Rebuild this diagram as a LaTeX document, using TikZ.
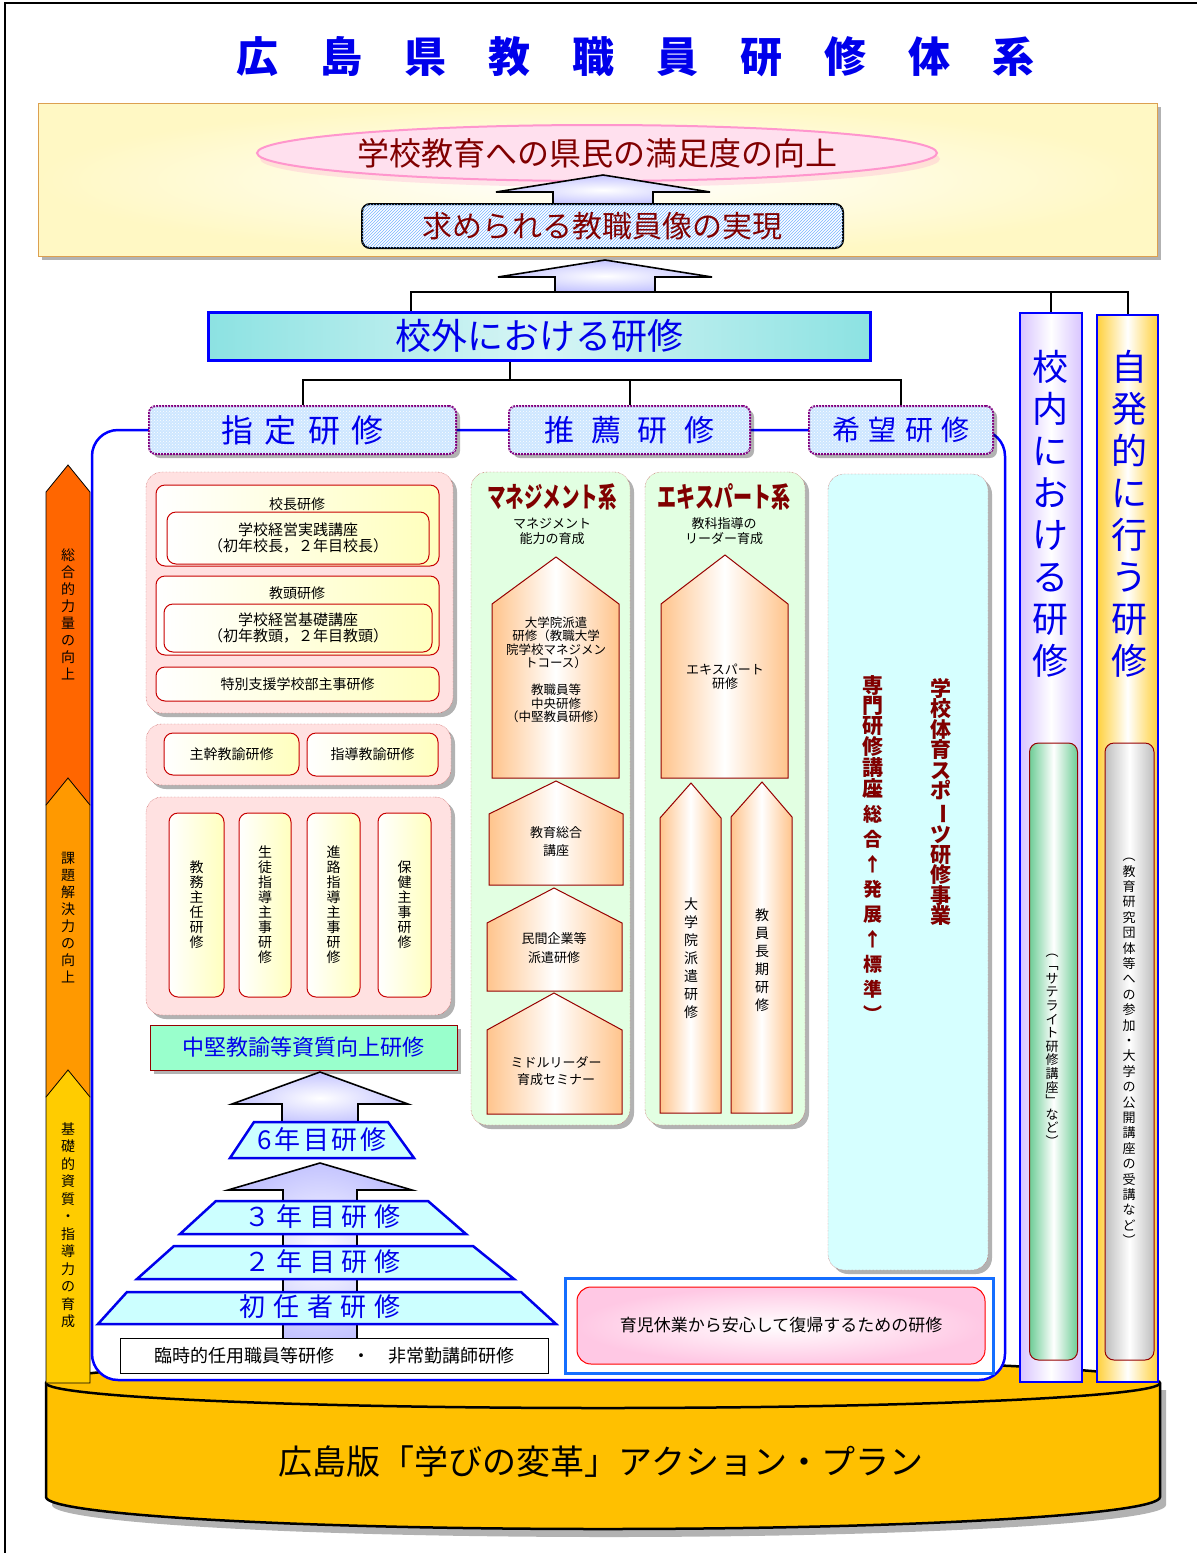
\documentclass[tikz,border=0pt]{standalone}
\usepackage{fontspec}
\setmainfont{Noto Sans CJK JP}
\usepackage{graphicx}
\usetikzlibrary{shapes.geometric,shadows,patterns,positioning}

\newcommand\fsz[2]{\fontsize{#1}{#2}\selectfont}

\definecolor{ttlblue}{RGB}{0,0,235}
\definecolor{txtred}{RGB}{128,0,0}
\definecolor{paleyel}{RGB}{255,248,196}
\definecolor{goalbdr}{RGB}{220,160,80}
\definecolor{ellpink}{RGB}{255,224,238}
\definecolor{ellbdr}{RGB}{255,150,205}
\definecolor{hatchblue}{RGB}{120,180,255}
\definecolor{arrlav}{RGB}{196,196,255}
\definecolor{barcyan}{RGB}{140,226,226}
\definecolor{frameblue}{RGB}{0,0,255}
\definecolor{lblfill}{RGB}{205,230,255}
\definecolor{lbldot}{RGB}{128,0,128}
\definecolor{grppink}{RGB}{255,225,225}
\definecolor{grpbdr}{RGB}{180,40,40}
\definecolor{boxyel}{RGB}{255,255,190}
\definecolor{boxbdr}{RGB}{200,0,0}
\definecolor{mint}{RGB}{153,255,204}
\definecolor{trapcyan}{RGB}{204,255,255}
\definecolor{grpgreen}{RGB}{226,255,226}
\definecolor{peach}{RGB}{255,196,140}
\definecolor{pentbdr}{RGB}{150,0,0}
\definecolor{grpcyan}{RGB}{214,255,255}
\definecolor{collav}{RGB}{216,196,255}
\definecolor{colgold}{RGB}{255,208,60}
\definecolor{bargreen}{RGB}{110,205,150}
\definecolor{bargray}{RGB}{190,190,190}
\definecolor{arrone}{RGB}{255,102,0}
\definecolor{arrtwo}{RGB}{255,153,0}
\definecolor{arrthree}{RGB}{255,204,0}
\definecolor{cylyel}{RGB}{255,192,0}
\definecolor{ikujiblue}{RGB}{20,110,255}
\definecolor{ikujipink}{RGB}{255,200,228}

\begin{document}
\begin{tikzpicture}[x=1pt,y=-1pt,
  shd/.style={drop shadow={shadow xshift=4pt,shadow yshift=-4pt,fill=black,opacity=.3}},
  blkarrow/.style={draw=black,line width=1.6,inner color=white,outer color=arrlav},
  tree/.style={line width=2},
  lbl/.style={draw=lbldot,line width=2,densely dotted,rounded corners=7,fill=lblfill,
    postaction={pattern=crosshatch dots,pattern color=white},shd,text=ttlblue,inner sep=0,minimum height=48},
  grp/.style={draw=grpbdr,densely dotted,rounded corners=16,shd,inner sep=0},
  ybox/.style={draw=boxbdr,line width=1,rounded corners=9,left color=white,right color=boxyel,
    inner sep=0,align=center,font=\fsz{15}{16}},
  trap/.style={draw=ttlblue,line width=2.5,fill=trapcyan},
  traptxt/.style={text=ttlblue,font=\fsz{26}{26}},
  pent/.style={draw=pentbdr,line width=1,left color=peach,right color=peach,middle color=white},
  col/.style={draw=frameblue,line width=2.5,inner sep=0},
  bar/.style={draw=pentbdr,line width=1,rounded corners=9,inner sep=0,minimum width=48,minimum height=617},
  lftarr/.style={draw=black,line width=.8},
  vtxt/.style={align=center,inner sep=0}]
\useasboundingbox (0,0) rectangle (1197,1553);
\draw[line width=1.5] (5,1553) -- (5,3) -- (1197,3);

% title
\node[font=\bfseries\fsz{42}{42},text=ttlblue] (title) at (635,57)
  {広\hspace{1em}島\hspace{1em}県\hspace{1em}教\hspace{1em}職\hspace{1em}員\hspace{1em}研\hspace{1em}修\hspace{1em}体\hspace{1em}系};

% goal
\node[draw=goalbdr,line width=1,inner sep=0,minimum width=1119,minimum height=153,
  inner color=white,outer color=paleyel,shd] (goal) at (597.5,179.5) {};
\node[ellipse,draw=ellbdr,line width=2,fill=ellpink,inner sep=0,minimum width=680,minimum height=56,
  text=txtred,font=\fsz{32}{32},drop shadow={shadow xshift=3pt,shadow yshift=-6pt,fill=ellbdr,opacity=.25}]
  (satis) at (597,153) {学校教育への県民の満足度の向上};
\draw[blkarrow] (603,175) -- (710,192) -- (653,192) -- (653,205) -- (553,205) -- (553,192) -- (496,192) -- cycle;
\node[draw=black,line width=2,rounded corners=8,fill=white,postaction={pattern=north east lines,pattern color=hatchblue},
  inner sep=0,minimum width=481,minimum height=44,text=txtred,font=\fsz{30}{30}] (ideal) at (602.5,226) {求められる教職員像の実現};
\draw[blkarrow] (605,260) -- (712,277) -- (655,277) -- (655,292) -- (555,292) -- (555,277) -- (498,277) -- cycle;

% base cylinder
\fill[black!30] (52,1390) -- (52,1505) arc[start angle=180,end angle=0,x radius=557,y radius=32] -- (1166,1390) -- cycle;
\draw[line width=2.5,fill=cylyel] (46,1383) -- (46,1497) arc[start angle=180,end angle=0,x radius=557,y radius=32]
  -- (1160,1383) arc[start angle=0,end angle=-180,x radius=557,y radius=25] -- cycle;
\draw[line width=2.5] (46,1383) arc[start angle=180,end angle=0,x radius=557,y radius=25];
\node[font=\fsz{34}{34}] (plan) at (601,1462) {広島版「学びの変革」アクション・プラン};

% left arrows
\draw[lftarr,fill=arrone] (68,465) -- (90,492) -- (90,805) -- (46,805) -- (46,492) -- cycle;
\draw[lftarr,fill=arrtwo] (68,778) -- (90,805) -- (90,1097) -- (46,1097) -- (46,805) -- cycle;
\draw[lftarr,fill=arrthree] (68,1070) -- (90,1097) -- (90,1383) -- (46,1383) -- (46,1097) -- cycle;
\node[vtxt,font=\fsz{14}{17}] (sogo) at (68,614) {総\\合\\的\\力\\量\\の\\向\\上};
\node[vtxt,font=\fsz{14}{17}] (kadai) at (68,918) {課\\題\\解\\決\\力\\の\\向\\上};
\node[vtxt,font=\fsz{14}{17.5}] (kiso) at (68,1225) {基\\礎\\的\\資\\質\\・\\指\\導\\力\\の\\育\\成};

% right columns
\node[col,left color=collav,right color=collav,middle color=white,minimum width=62,minimum height=1069] (nai) at (1051,847.5) {};
\node[vtxt,text=ttlblue,font=\fsz{36}{42}] (naitxt) at (1050,514) {校\\内\\に\\お\\け\\る\\研\\修};
\node[bar,left color=bargreen,right color=bargreen,middle color=white] (naibar) at (1053.5,1051.5) {};
\node[vtxt,font=\fsz{13}{13.6}] (naisub) at (1052,1050) {︵\\﹁\\サ\\テ\\ラ\\イ\\ト\\研\\修\\講\\座\\﹂\\な\\ど\\︶};
\node[col,left color=colgold,right color=colgold,middle color=white,minimum width=61,minimum height=1067] (jihatsu) at (1127.5,848.5) {};
\node[vtxt,text=ttlblue,font=\fsz{36}{42}] (jitxt) at (1129,514) {自\\発\\的\\に\\行\\う\\研\\修};
\node[bar,left color=bargray,right color=bargray,middle color=white,minimum width=49] (jibar) at (1129.5,1051.5) {};
\node[vtxt,font=\fsz{13}{15.4}] (jisub) at (1129,1052)
  {︵\\教\\育\\研\\究\\団\\体\\等\\へ\\の\\参\\加\\・\\大\\学\\の\\公\\開\\講\\座\\の\\受\\講\\な\\ど\\︶};

% outside training
\node[draw=frameblue,line width=3,inner sep=0,minimum width=662,minimum height=48,
  left color=barcyan,right color=barcyan,middle color=barcyan!35,text=ttlblue,font=\fsz{36}{36}] (soto) at (539,336) {校外における研修};

% blue frame and labels
\draw[frameblue,line width=2.5,rounded corners=26,fill=white] (92,430) rectangle (1005,1380);
\node[lbl,minimum width=307,font=\fsz{32}{32}] (shitei) at (302.5,430) {指\hspace{.35em}定\hspace{.35em}研\hspace{.35em}修};
\node[lbl,minimum width=241,font=\fsz{30}{30}] (suisen) at (629.5,430) {推\hspace{.55em}薦\hspace{.55em}研\hspace{.55em}修};
\node[lbl,minimum width=184,font=\fsz{28}{28}] (kibou) at (901,430) {希\hspace{.3em}望\hspace{.3em}研\hspace{.3em}修};

% tree lines
\coordinate (junc) at (411,292);
\draw[tree] (junc |- soto.north) -- (junc) -| (nai.north);
\draw[tree] (junc) -| (jihatsu.north);
\coordinate (split) at (510,380);
\draw[tree] (split |- soto.south) -- (split);
\draw[tree] (shitei.north) -- (shitei.north |- split) -| (kibou.north);
\draw[tree] (suisen.north) -- (suisen.north |- split);

% designated: management posts
\node[grp,fill=grppink,minimum width=307,minimum height=241] (grpA) at (299.5,592.5) {};
\node[ybox,minimum width=283,minimum height=81] (kocho) at (297.5,525.5) {};
\node[font=\fsz{14}{14}] (kochot) at (297,504) {校長研修};
\node[ybox,minimum width=262,minimum height=52] (kochoin) at (298,538) {学校経営実践講座\\（初年校長，２年目校長）};
\node[ybox,minimum width=283,minimum height=79] (kyoto) at (297.5,615.5) {};
\node[font=\fsz{14}{14}] (kyotot) at (297,593) {教頭研修};
\node[ybox,minimum width=268,minimum height=48] (kyotoin) at (298,628) {学校経営基礎講座\\（初年教頭，２年目教頭）};
\node[ybox,minimum width=283,minimum height=34,font=\fsz{14}{14}] (tokubetsu) at (297.5,684) {特別支援学校部主事研修};

\node[grp,fill=grppink,minimum width=305,minimum height=61] (grpB) at (298.5,754.5) {};
\node[ybox,minimum width=135,minimum height=42,font=\fsz{14}{14}] (shukan) at (231.5,754) {主幹教諭研修};
\node[ybox,minimum width=131,minimum height=43,font=\fsz{14}{14}] (shido) at (372.5,754.5) {指導教諭研修};

\node[grp,fill=grppink,minimum width=305,minimum height=218] (grpC) at (298.5,906) {};
\node[ybox,minimum width=55,minimum height=184,font=\fsz{14}{15}] (kyomu) at (196.5,905) {教\\務\\主\\任\\研\\修};
\node[ybox,minimum width=52,minimum height=184,font=\fsz{14}{15}] (seito) at (265,905) {生\\徒\\指\\導\\主\\事\\研\\修};
\node[ybox,minimum width=53,minimum height=184,font=\fsz{14}{15}] (shinro) at (333.5,905) {進\\路\\指\\導\\主\\事\\研\\修};
\node[ybox,minimum width=53,minimum height=184,font=\fsz{14}{15}] (hoken) at (404.5,905) {保\\健\\主\\事\\研\\修};

\node[draw=pentbdr,line width=1,fill=mint,shd,inner sep=0,minimum width=307,minimum height=45,
  text=ttlblue,font=\fsz{22}{22}] (chuken) at (303.5,1047.5) {中堅教諭等資質向上研修};

% pyramid of basic training
\draw[blkarrow] (320,1072) -- (408,1104) -- (358,1104) -- (358,1124) -- (282,1124) -- (282,1104) -- (232,1104) -- cycle;
\draw[trap] (254,1122) -- (388,1122) -- (414,1158) -- (230,1158) -- cycle;
\node[traptxt] (nen6) at (322,1140) {6\hspace{.1em}年\hspace{.1em}目\hspace{.1em}研\hspace{.1em}修};
\draw[blkarrow] (320,1163) -- (412,1190) -- (357,1190) -- (357,1340) -- (283,1340) -- (283,1190) -- (228,1190) -- cycle;
\draw[trap] (216,1201) -- (428,1201) -- (466,1234) -- (180,1234) -- cycle;
\node[traptxt] (nen3) at (322,1217) {３\hspace{.25em}年\hspace{.25em}目\hspace{.25em}研\hspace{.25em}修};
\draw[trap] (174,1246) -- (473,1246) -- (514,1279) -- (137,1279) -- cycle;
\node[traptxt] (nen2) at (322,1262) {２\hspace{.25em}年\hspace{.25em}目\hspace{.25em}研\hspace{.25em}修};
\draw[trap] (127,1292) -- (521,1292) -- (556,1324) -- (98,1324) -- cycle;
\node[traptxt] (shonin) at (320,1307) {初\hspace{.3em}任\hspace{.3em}者\hspace{.3em}研\hspace{.3em}修};
\node[draw=black,line width=1,fill=white,inner sep=0,minimum width=428,minimum height=35,font=\fsz{18}{18}] (rinji) at (334,1355.5)
  {臨時的任用職員等研修\quad ・\quad 非常勤講師研修};

% recommended: management
\node[grp,fill=grpgreen,minimum width=159,minimum height=653] (mgmt) at (550.5,798.5) {};
\node[font=\bfseries\fsz{28}{28},text=txtred] (mgmtt) at (552,497) {\scalebox{0.66}[1]{マネジメント系}};
\node[vtxt,font=\fsz{13}{15}] (mgmts) at (552,531) {マネジメント\\能力の育成};
\draw[pent] (556,557) -- (619,604) -- (619,778) -- (492,778) -- (492,604) -- cycle;
\node[vtxt,font=\fsz{12.5}{13.5}] (daigakuin) at (556,670)
  {大学院派遣\\研修（教職大学\\院学校マネジメン\\トコース）\\[13.5pt]教職員等\\中央研修\\（中堅教員研修）};
\draw[pent] (556,781) -- (623,814) -- (623,885) -- (489,885) -- (489,814) -- cycle;
\node[vtxt,font=\fsz{13}{18}] (sogokoza) at (556,842) {教育総合\\講座};
\draw[pent] (554,888) -- (622,923) -- (622,991) -- (487,991) -- (487,923) -- cycle;
\node[vtxt,font=\fsz{13}{19}] (minkan) at (554,948) {民間企業等\\派遣研修};
\draw[pent] (554,993) -- (622,1030) -- (622,1114) -- (487,1114) -- (487,1030) -- cycle;
\node[vtxt,font=\fsz{13}{17}] (middle) at (556,1071) {ミドルリーダー\\育成セミナー};

% recommended: expert
\node[grp,fill=grpgreen,minimum width=160,minimum height=653] (expt) at (725,798.5) {};
\node[font=\bfseries\fsz{28}{28},text=txtred] (exptt) at (724,497) {\scalebox{0.68}[1]{エキスパート系}};
\node[vtxt,font=\fsz{13}{15}] (expts) at (724,531) {教科指導の\\リーダー育成};
\draw[pent] (725,555) -- (788,604) -- (788,778) -- (661,778) -- (661,604) -- cycle;
\node[vtxt,font=\fsz{13}{14}] (expken) at (725,677) {エキスパート\\研修};
\draw[pent] (691,783) -- (721,818) -- (721,1113) -- (660,1113) -- (660,818) -- cycle;
\node[vtxt,font=\fsz{14}{18}] (haken) at (691,958) {大\\学\\院\\派\\遣\\研\\修};
\draw[pent] (762,782) -- (792,817) -- (792,1113) -- (731,1113) -- (731,817) -- cycle;
\node[vtxt,font=\fsz{14}{18}] (choki) at (762,960) {教\\員\\長\\期\\研\\修};

% wished
\node[grp,fill=grpcyan,minimum width=160,minimum height=796] (kibogrp) at (908,872) {};
\node[vtxt,text=txtred,font=\bfseries\fsz{21}{17.5}] (senmon) at (873,737) {専\\門\\研\\修\\講\\座};
\node[vtxt,text=txtred,font=\bfseries\fsz{19}{25},below=7 of senmon] (senmonsub) {︵\\総\\合\\↑\\発\\展\\↑\\標\\準\\︶};
\node[vtxt,text=txtred,font=\bfseries\fsz{21}{20.4}] (taiiku) at (941,802)
  {学\\校\\体\\育\\ス\\ポ\\\rotatebox[origin=c]{-90}{ー}\\ツ\\研\\修\\事\\業};

% childcare
\node[draw=ikujiblue,line width=3,fill=white,inner sep=0,minimum width=428,minimum height=95] (ikuji) at (779,1325.5) {};
\node[draw=red,line width=1,rounded corners=14,inner color=white,outer color=ikujipink,inner sep=0,
  minimum width=408,minimum height=77,font=\fsz{17}{17}] (ikujin) at (781,1325.5) {育児休業から安心して復帰するための研修};
\end{tikzpicture}
\end{document}
